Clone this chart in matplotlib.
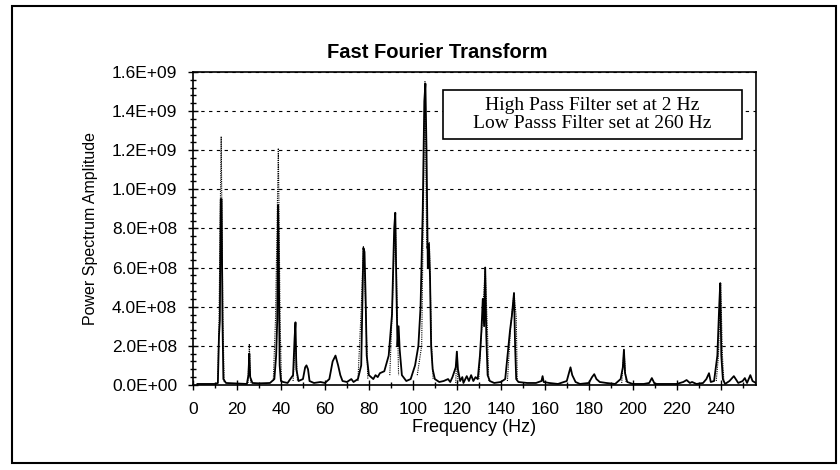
## Import libraries
import numpy as np
import matplotlib
matplotlib.use("Agg")
import matplotlib.pyplot as plt
from matplotlib.patches import Rectangle
from matplotlib.ticker import MultipleLocator, FuncFormatter

# Solid trace of the spectrum, frequency in Hz, amplitude in units of 1E+08
freq_solid = [2, 10, 11.3, 11.8, 12.2, 12.6, 13.0, 13.4, 13.8, 15, 24.5, 25.2, 25.6, 26.0, 27, 30, 35,
              37, 37.8, 38.3, 38.7, 39.0, 39.4, 40, 41, 43, 45.5, 46.2, 46.6, 47.0, 48, 50, 51, 51.6,
              52.3, 53, 55, 58, 60, 62, 63.5, 64.8, 66, 67, 68, 70, 72, 73, 75, 76.5, 77.0, 77.5, 78.0,
              78.5, 79, 80, 82, 83, 84, 85, 87, 89, 90.5, 91.5, 92, 92.5, 93, 93.5, 94, 95, 97, 99, 101,
              102.5, 103.5, 104.5, 105.2, 105.7, 106.2, 106.8, 107.3, 107.8, 108.3, 109, 110, 112, 114,
              116, 117, 118, 119.5, 120, 120.5, 121.5, 122.5, 123, 124.5, 125.5, 126.5, 127.5, 128.5,
              129.5, 130.5, 131.2, 131.8, 132.4, 132.9, 133.4, 134, 135, 137, 140, 142, 143.5, 144.2,
              145, 146, 146.5, 147, 148, 152, 156, 158.5, 159, 159.5, 162, 166, 170, 171, 171.7, 172.5,
              174, 176, 180, 181.5, 182.5, 183.5, 185, 188, 192, 194.5, 195.5, 196, 196.5, 197.5, 200,
              205, 207.5, 208.7, 210, 215, 220, 223, 224.5, 226, 227, 229, 232, 233.5, 234.7, 235.5,
              237, 238.5, 239.3, 239.8, 240.3, 241, 242, 244, 246, 248, 250, 251, 252, 253.5, 254.5, 256]
amp_solid = [0.05, 0.05, 0.1, 2.5, 3.3, 9.5, 9.5, 3.3, 0.3, 0.1, 0.05, 0.5, 1.6, 0.4, 0.1, 0.08, 0.1,
             0.3, 1.5, 3.3, 9.2, 6.4, 1.0, 0.2, 0.15, 0.1, 0.5, 2.4, 3.2, 0.8, 0.2, 0.3, 0.9, 1.0,
             0.8, 0.2, 0.1, 0.15, 0.1, 0.3, 1.2, 1.5, 1.0, 0.5, 0.2, 0.15, 0.3, 0.15, 0.3, 1.0, 3.9, 7.0, 6.8,
             4.5, 1.5, 0.5, 0.3, 0.5, 0.4, 0.6, 0.7, 1.5, 3.6, 8.0, 8.8, 5.0, 2.0, 3.0, 1.8, 0.5, 0.2, 0.3, 1.0,
             2.0, 4.0, 9.0, 14.5, 15.4, 12.0, 6.0, 7.2, 5.5, 2.0, 0.8, 0.3, 0.15, 0.2,
             0.3, 0.15, 0.4, 0.9, 1.7, 0.8, 0.2, 0.4, 0.1, 0.45, 0.2, 0.5, 0.2, 0.4,
             0.3, 1.5, 2.8, 4.4, 3.0, 6.0, 2.5, 0.5, 0.2, 0.1, 0.15, 0.3, 2.0, 2.8,
             3.5, 4.7, 2.0, 0.3, 0.15, 0.1, 0.1, 0.2, 0.45, 0.15, 0.1, 0.05, 0.2, 0.6, 0.9, 0.5,
             0.15, 0.05, 0.1, 0.4, 0.55, 0.3, 0.15, 0.1, 0.05, 0.3, 0.9, 1.8, 0.6, 0.15, 0.05,
             0.05, 0.1, 0.35, 0.05, 0.05, 0.05, 0.15, 0.25, 0.1, 0.15, 0.05, 0.1, 0.3, 0.6, 0.15,
             0.2, 1.5, 3.9, 5.2, 1.5, 0.3, 0.05, 0.2, 0.45, 0.1, 0.2, 0.35, 0.1, 0.5, 0.2, 0.1]

# Dotted trace (the tall spike tips), groups separated by NaN
freq_dot = [11.2, 11.8, 12.8, 13.6, 14.2, np.nan,
            25.0, 25.6, 26.2, np.nan,
            36.5, 37.5, 38.8, 39.6, 40.2, np.nan,
            45.5, 46.6, 47.5, np.nan,
            75, 76.5, 77.5, 78.5, 79.5, np.nan,
            89.5, 90.5, 92, 93, 93.5, np.nan,
            102, 104, 105.5, 106.3, 107.5, 108.5, 109.2, np.nan,
            119.5, 120, 120.5, np.nan,
            130, 131.5, 132.9, 134, 134.5, np.nan,
            143, 144.5, 146, 147, 147.5, np.nan,
            195, 196, 197, np.nan,
            238, 239, 240, 240.8, 241.5]
amp_dot = [0.1, 3.2, 12.7, 3.2, 0.1, np.nan,
           0.1, 2.1, 0.1, np.nan,
           0.2, 3.3, 12.1, 3.3, 0.2, np.nan,
           0.2, 2.4, 0.2, np.nan,
           0.2, 3.9, 7.1, 4.0, 0.3, np.nan,
           0.5, 3.5, 8.8, 3.1, 0.5, np.nan,
           0.5, 2.0, 15.5, 7.0, 7.3, 2.0, 0.3, np.nan,
           0.1, 1.7, 0.1, np.nan,
           0.3, 3.2, 6.0, 2.5, 0.2, np.nan,
           0.2, 3.0, 4.7, 3.5, 0.2, np.nan,
           0.1, 1.8, 0.1, np.nan,
           0.2, 1.5, 5.2, 1.5, 0.1]

x_ticks = [0, 20, 40, 60, 80, 100, 120, 140, 160, 180, 200, 220, 240]
y_ticks = [0, 2e8, 4e8, 6e8, 8e8, 1.0e9, 1.2e9, 1.4e9, 1.6e9]

title = "Fast Fourier Transform"
note = "High Pass Filter set at 2 Hz\nLow Passs Filter set at 260 Hz"


def main():
    plt.rcParams['font.family'] = ['Liberation Sans', 'DejaVu Sans']

    fig = plt.figure(figsize=(8.4, 4.7), dpi=100)
    ax = fig.add_axes([0.2298, 0.181, 0.670, 0.666])

    # outer chart frame
    fig.patches.append(Rectangle((0.0143, 0.015), 0.981, 0.972, transform=fig.transFigure,
                                 fill=False, edgecolor='black', linewidth=1.5))

    # spectrum traces
    scale = 1e8
    ax.plot(freq_solid, np.array(amp_solid) * scale, color='black', linewidth=1.3, zorder=3)
    ax.plot(freq_dot, np.array(amp_dot) * scale, color='black', linewidth=0.8,
            linestyle=(0, (1, 1)), zorder=2)

    ax.set_xlim(0, 256)
    ax.set_ylim(0, 1.6e9)
    ax.set_xticks(x_ticks)
    ax.set_yticks(y_ticks)
    ax.xaxis.set_minor_locator(MultipleLocator(10))
    ax.yaxis.set_minor_locator(MultipleLocator(4e7))
    ax.yaxis.set_major_formatter(FuncFormatter(lambda v, p: f"{v:.1E}"))

    ax.tick_params(axis='both', which='major', direction='inout', length=7, width=1,
                   labelsize=12.5, pad=8, top=False, right=False)
    ax.tick_params(axis='both', which='minor', direction='inout', length=5, width=1,
                   top=False, right=False)
    ax.tick_params(axis='x', which='major', labelsize=12.5, pad=9)

    for s in ax.spines.values():
        s.set_linewidth(1.2)

    # dashed horizontal grid
    ax.grid(axis='y', which='major', color='black', linestyle=(0, (3, 4)), linewidth=0.8)
    ax.set_axisbelow(True)

    ax.set_xlabel("Frequency (Hz)", fontsize=13, labelpad=1)
    ax.set_ylabel("Power Spectrum Amplitude", fontsize=11.5, labelpad=10)

    fig.text(0.521, 0.889, title, fontsize=14.5, fontweight='bold', ha='center', va='center')

    # filter settings box
    ax.add_patch(Rectangle((0.444, 0.786), 0.531, 0.156, transform=ax.transAxes,
                           facecolor='white', edgecolor='black', linewidth=1.2, zorder=4))
    ax.text(0.71, 0.864, note, transform=ax.transAxes, ha='center', va='center',
            fontsize=14, family=['Liberation Serif', 'DejaVu Serif'], linespacing=1.15, zorder=5)

    plt.savefig('out.png', dpi=100)


if __name__ == '__main__':
    main()
